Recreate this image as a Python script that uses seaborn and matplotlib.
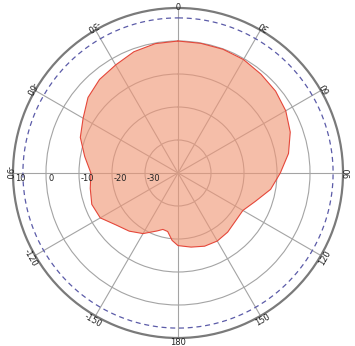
import numpy as np
import matplotlib
matplotlib.use("Agg")
import matplotlib.pyplot as plt
import matplotlib.transforms as mtransforms
import seaborn as sns

# Pattern: angle (deg, clockwise from top) and gain (dB)
angles_deg = [0, 10, 20, 30, 40, 50, 60, 70, 80, 90, 100, 110, 120, 130, 140,
              150, 160, 170, 180, 185, 190, 195, 200, 210, 220, 230, 240, 250,
              260, 270, 280, 290, 300, 310, 320, 330, 340, 350, 360]
gain_db = [0.0, -0.1, -0.1, -0.3, -0.9, -1.4, -2.3, -3.8, -6.0, -9.0, -11.5,
           -15.0, -17.3, -17.3, -16.6, -16.2, -16.4, -17.2, -18.0, -19.5,
           -22.0, -22.3, -21.3, -18.8, -17.0, -15.5, -12.8, -12.2, -13.0,
           -13.6, -11.3, -8.5, -6.8, -4.4, -3.0, -2.2, -0.9, -0.2, 0.0]

ring_values = [-30, -20, -10, 0]
ring_labels = ["10", "0", "-10", "-20", "-30"]
ring_label_values = [10, 0, -10, -20, -30]
angle_ticks = [0, 30, 60, 90, 120, 150, 180, -150, -120, -90, -60, -30]
ref_level = 7.0
r_min, r_max = -40, 10

sns.set_theme(style="white")
plt.rcParams['font.family'] = ['DejaVu Sans']

fig = plt.figure(figsize=(3.55, 3.46), dpi=100)
ax = fig.add_axes([13 / 355, 8 / 346, 330 / 355, 330 / 346], projection="polar")
ax.set_theta_zero_location("N")
ax.set_theta_direction(-1)
ax.set_rlim(r_min, r_max)
ax.set_axisbelow(True)

# grid
ax.set_yticks(ring_values)
ax.set_yticklabels([])
ax.set_xticks(np.deg2rad(np.arange(0, 360, 30)))
ax.set_xticklabels([])
ax.grid(True, color="#a4a4a4", linewidth=0.8)
ax.spines["polar"].set_color("#7a7a7a")
ax.spines["polar"].set_linewidth(1.6)

th = np.deg2rad(angles_deg)
ax.fill(th, gain_db, color="#F09675", alpha=0.62, linewidth=0, zorder=2)
sns.lineplot(x=th, y=gain_db, sort=False, ax=ax, color="#E5473A",
             linewidth=0.8, zorder=3)

# reference dashed circle
tc = np.linspace(0, 2 * np.pi, 361)
ax.plot(tc, np.full_like(tc, ref_level), linestyle=(0, (4, 3)),
        color="#5B5BA8", linewidth=0.9, zorder=3)

# radial labels on the left horizontal axis
lab_tr = mtransforms.offset_copy(ax.transData, fig=fig, x=1.5, y=-1.0,
                                 units="points")
for v, lab in zip(ring_label_values, ring_labels):
    ax.text(np.deg2rad(270), v, lab, fontsize=6, ha="left", va="top",
            color="#222222", zorder=5, transform=lab_tr)

# angle labels, tops toward center
for a in angle_ticks:
    rot = (180 - a) % 360
    ax.text(np.deg2rad(a), r_max + 1.5, str(a), fontsize=6, rotation=rot,
            rotation_mode="anchor", ha="center", va="center",
            color="#222222", zorder=5)

ax.set_xlabel("")
ax.set_ylabel("")
fig.savefig("out.png", dpi=100)
